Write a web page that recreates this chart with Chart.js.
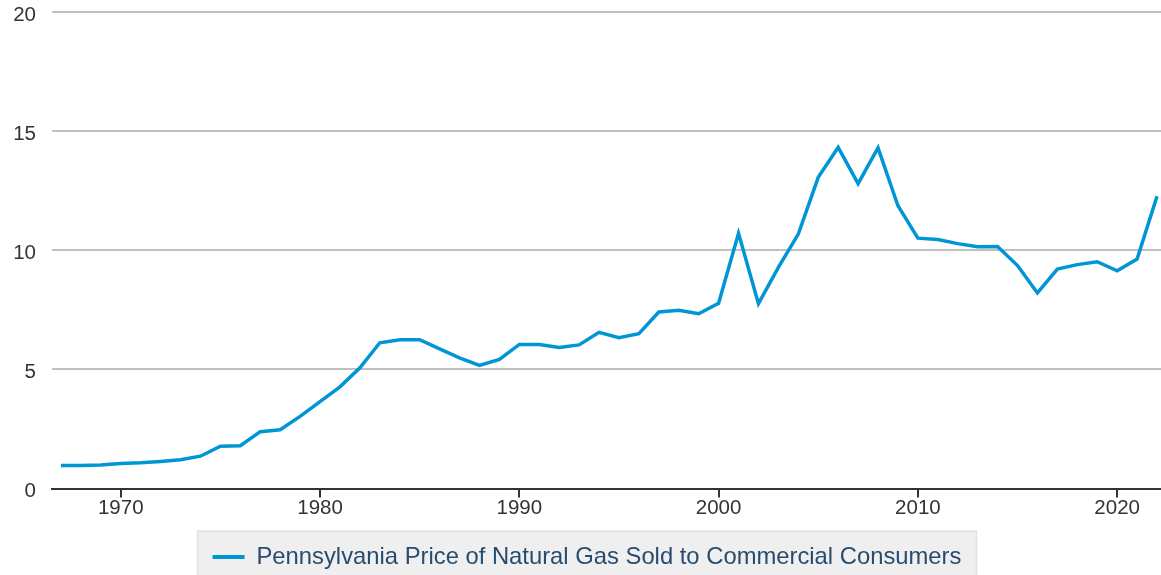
<!DOCTYPE html>
<html>
<head>
<meta charset="utf-8">
<script src="https://cdn.jsdelivr.net/npm/chart.js@4"></script>
<style>
  html, body { margin: 0; padding: 0; background: #ffffff; overflow: hidden; }
  #wrap { width: 1161px; height: 579px; }
</style>
</head>
<body>
<div id="wrap"><canvas id="c" width="1161" height="579"></canvas></div>
<script>
const years = [1967,1968,1969,1970,1971,1972,1973,1974,1975,1976,1977,1978,1979,1980,1981,1982,1983,1984,1985,1986,1987,1988,1989,1990,1991,1992,1993,1994,1995,1996,1997,1998,1999,2000,2001,2002,2003,2004,2005,2006,2007,2008,2009,2010,2011,2012,2013,2014,2015,2016,2017,2018,2019,2020,2021,2022];
const prices = [0.97,0.97,0.99,1.05,1.08,1.14,1.21,1.36,1.78,1.80,2.39,2.47,3.03,3.65,4.27,5.07,6.12,6.25,6.25,5.86,5.49,5.17,5.42,6.05,6.05,5.92,6.03,6.56,6.33,6.50,7.41,7.48,7.34,7.78,10.71,7.76,9.28,10.68,13.06,14.32,12.80,14.30,11.87,10.51,10.45,10.28,10.15,10.16,9.36,8.21,9.21,9.40,9.52,9.14,9.63,12.27];
const xTicks = [1970,1980,1990,2000,2010,2020];
const yTicks = [0,5,10,15,20];
const seriesLabel = 'Pennsylvania Price of Natural Gas Sold to Commercial Consumers';

const LINE = '#0096d6';

const legendBg = {
  id: 'legendBg',
  beforeDraw(chart) {
    const lg = chart.legend;
    if (!lg || !lg.legendHitBoxes || !lg.legendHitBoxes.length) return;
    const hb = lg.legendHitBoxes[0];
    const cy = hb.top + hb.height / 2;
    const ctx = chart.ctx;
    const x = hb.left - 15, y = cy - 26, w = hb.width + 30, h = chart.height - y + 10;
    ctx.save();
    ctx.fillStyle = '#efefef';
    ctx.fillRect(x, y, w, h);
    ctx.strokeStyle = '#e2e2e2';
    ctx.lineWidth = 1.5;
    ctx.strokeRect(x, y, w, h);
    ctx.restore();
  }
};

new Chart(document.getElementById('c'), {
  type: 'line',
  data: {
    datasets: [{
      label: seriesLabel,
      data: years.map((yr, i) => ({ x: yr, y: prices[i] })),
      borderColor: LINE,
      backgroundColor: LINE,
      borderWidth: 3.5,
      pointRadius: 0,
      tension: 0,
      fill: false
    }]
  },
  options: {
    responsive: false,
    animation: false,
    layout: { padding: { left: 13, right: 0, top: 0, bottom: 0 } },
    plugins: {
      tooltip: { enabled: false },
      legend: {
        position: 'bottom',
        labels: {
          boxWidth: 32,
          boxHeight: 4,
          padding: 27,
          color: '#284c6f',
          font: { family: '"Liberation Sans", Arial, sans-serif', size: 23.8 },
          generateLabels: (chart) => Chart.defaults.plugins.legend.labels.generateLabels(chart)
            .map(l => ({ ...l, lineWidth: 0, fillStyle: LINE, strokeStyle: LINE }))
        }
      }
    },
    scales: {
      x: {
        type: 'linear',
        min: 1966.55,
        max: 2022.2,
        afterBuildTicks: (axis) => { axis.ticks = xTicks.map(v => ({ value: v })); },
        grid: { drawOnChartArea: false, drawTicks: true, tickLength: 9, color: '#333333', lineWidth: 2 },
        border: { display: true, color: '#333333', width: 2 },
        ticks: {
          padding: -2,
          color: '#333333',
          maxRotation: 0,
          autoSkip: false,
          font: { family: '"Liberation Sans", Arial, sans-serif', size: 20.5 },
          callback: (v) => String(v)
        }
      },
      y: {
        min: 0,
        max: 20,
        afterBuildTicks: (axis) => { axis.ticks = yTicks.map(v => ({ value: v })); },
        afterFit: (axis) => { axis.width = 39; axis.paddingTop = 12; axis.paddingBottom = 0; },
        grid: { drawTicks: false, color: '#c0c0c0', lineWidth: 2 },
        border: { display: false },
        ticks: {
          padding: 16,
          labelOffset: 3,
          color: '#333333',
          font: { family: '"Liberation Sans", Arial, sans-serif', size: 20.5 }
        }
      }
    }
  },
  plugins: [legendBg]
});
</script>
</body>
</html>
